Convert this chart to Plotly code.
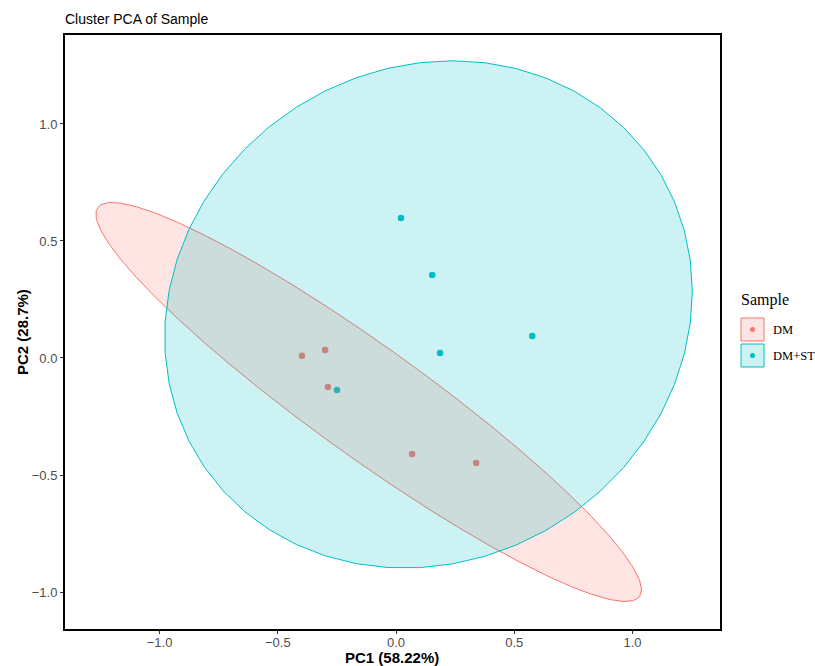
import numpy as np
import plotly.graph_objects as go

# ---- data ----
groups = ["DM", "DM+ST"]
dm_pc1 = [-0.398, -0.300, -0.288, 0.068, 0.339]
dm_pc2 = [0.009, 0.034, -0.124, -0.410, -0.449]
dmst_pc1 = [0.021, 0.153, 0.186, 0.576, -0.250]
dmst_pc2 = [0.598, 0.355, 0.021, 0.094, -0.137]
colors = ["#F8766D", "#00BFC4"]
fills = ["rgba(248,118,109,0.2)", "rgba(0,191,196,0.2)"]
x_ticks = [-1.0, -0.5, 0.0, 0.5, 1.0]
y_ticks = [-1.0, -0.5, 0.0, 0.5, 1.0]

data = {"DM": (dm_pc1, dm_pc2), "DM+ST": (dmst_pc1, dmst_pc2)}


def ellipse(x, y, level=0.95, segments=51):
    pts = np.column_stack([x, y])
    n = len(pts)
    center = pts.mean(axis=0)
    shape = np.cov(pts, rowvar=False)
    df2 = n - 1
    fq = (df2 / 2.0) * ((1 - level) ** (-2.0 / df2) - 1)
    radius = np.sqrt(2 * fq)
    ang = np.linspace(0, 2 * np.pi, segments + 1)
    circle = np.column_stack([np.cos(ang), np.sin(ang)])
    chol = np.linalg.cholesky(shape).T
    e = center + radius * circle @ chol
    return e[:, 0], e[:, 1]


fig = go.Figure()
font_sans = "Liberation Sans, Arial, sans-serif"
font_serif = "Liberation Serif, Times New Roman, serif"

for g, c in zip(groups, colors):
    x, y = data[g]
    fig.add_trace(go.Scatter(x=x, y=y, mode="markers",
                             marker=dict(color=c, size=6.5), showlegend=False))
for g, c, f in zip(groups, colors, fills):
    x, y = data[g]
    ex, ey = ellipse(x, y)
    fig.add_trace(go.Scatter(x=ex, y=ey, mode="lines", fill="toself",
                             fillcolor=f, line=dict(color=c, width=1),
                             showlegend=False, hoverinfo="skip"))

W, H = 815, 666
L, R, T, B = 65, 720, 35, 629

fig.update_layout(
    width=W, height=H,
    margin=dict(l=L, r=W - R, t=T, b=H - B),
    plot_bgcolor="white", paper_bgcolor="white",
    showlegend=False,
    title=dict(text="Cluster PCA of Sample", x=L / W, xanchor="left",
               y=1 - 19 / H, yanchor="middle",
               font=dict(family=font_sans, size=14, color="black")),
)
axis_common = dict(showgrid=False, zeroline=False, showline=True, mirror=True,
                   linecolor="black", linewidth=2, ticks="outside", ticklen=3,
                   tickcolor="#333333", tickwidth=1, automargin=False,
                   tickfont=dict(family=font_sans, size=13, color="#4D4D4D"))
fig.update_xaxes(range=[-1.40, 1.37], tickvals=x_ticks,
                 ticktext=[f"{v:.1f}".replace("-", "\u2212") for v in x_ticks],
                 ticklabelstandoff=-3, **axis_common)
fig.update_yaxes(range=[-1.158, 1.38], tickvals=y_ticks,
                 ticktext=[f"{v:.1f}".replace("-", "\u2212") for v in y_ticks],
                 **axis_common)


def px(xp):
    return (xp - L) / (R - L)


def py(yp):
    return (B - yp) / (B - T)


# axis titles
fig.add_annotation(x=px(392), y=py(657), xref="paper", yref="paper",
                   text="<b>PC1 (58.22%)</b>", showarrow=False,
                   xanchor="center", yanchor="middle",
                   font=dict(family=font_sans, size=15, color="black"))
fig.add_annotation(x=px(22), y=py(332), xref="paper", yref="paper",
                   text="<b>PC2 (28.7%)</b>", showarrow=False, textangle=-90,
                   xanchor="center", yanchor="middle",
                   font=dict(family=font_sans, size=15, color="black"))

# manual legend
fig.add_annotation(x=px(739), y=py(300), xref="paper", yref="paper",
                   text="Sample", showarrow=False, xanchor="left", yanchor="middle",
                   font=dict(family=font_serif, size=16, color="black"))
for i, (g, c, f) in enumerate(zip(groups, colors, fills)):
    top = 318 + i * 26
    fig.add_shape(type="rect", xref="paper", yref="paper",
                  x0=px(741), x1=px(764), y0=py(top), y1=py(top + 23),
                  fillcolor=f, line=dict(color=c, width=1))
    fig.add_shape(type="circle", xref="paper", yref="paper",
                  x0=px(750), x1=px(755), y0=py(top + 9), y1=py(top + 14),
                  fillcolor=c, line=dict(width=0))
    fig.add_annotation(x=px(771), y=py(top + 11.5), xref="paper", yref="paper",
                       text=g, showarrow=False, xanchor="left", yanchor="middle",
                       font=dict(family=font_serif, size=12.5, color="black"))

fig.write_html("out.html")
